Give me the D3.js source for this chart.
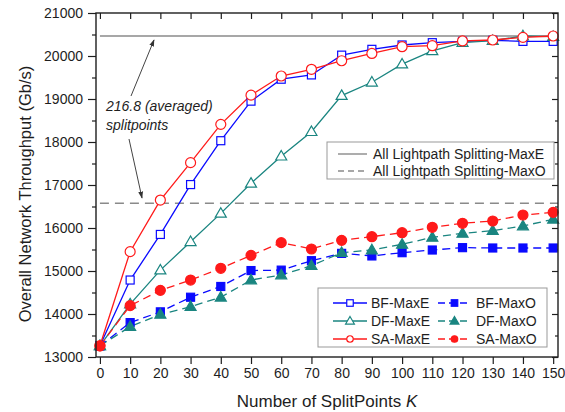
<!DOCTYPE html>
<html>
<head>
<meta charset="utf-8">
<script src="https://cdn.jsdelivr.net/npm/d3@7/dist/d3.min.js"></script>
<style>
  html, body { margin: 0; padding: 0; background: #fff; }
  svg { display: block; font-family: "Liberation Sans", Arial, sans-serif; }
</style>
</head>
<body>
<svg id="chart" width="565" height="412"></svg>
<script>
// Number of split points K
const splitPoints = [0, 10, 20, 30, 40, 50, 60, 70, 80, 90, 100, 110, 120, 130, 140, 150];

// Overall network throughput (Gb/s) per algorithm / objective
const bfMaxE = [13260, 14790, 15850, 17010, 18030, 18950, 19460, 19560, 20020, 20155, 20256, 20310, 20340, 20364, 20340, 20340];
const dfMaxE = [13260, 14230, 15020, 15680, 16340, 17040, 17670, 18240, 19080, 19390, 19810, 20120, 20310, 20357, 20465, 20450];
const saMaxE = [13260, 15450, 16650, 17520, 18410, 19090, 19535, 19690, 19890, 20060, 20217, 20240, 20350, 20372, 20434, 20465];
const bfMaxO = [13260, 13800, 14050, 14390, 14640, 15010, 15020, 15240, 15410, 15350, 15426, 15488, 15543, 15535, 15535, 15535];
const dfMaxO = [13260, 13705, 13990, 14170, 14390, 14790, 14907, 15124, 15426, 15488, 15620, 15783, 15876, 15938, 16047, 16202];
const saMaxO = [13260, 14194, 14550, 14790, 15062, 15364, 15659, 15512, 15713, 15798, 15891, 16016, 16109, 16163, 16302, 16364];

// Reference levels: all lightpaths split
const allSplitMaxE = 20465;
const allSplitMaxO = 16574;

const xTicks = d3.range(0, 151, 10);
const yTicks = d3.range(13000, 21001, 1000);
const yMinorTicks = d3.range(13500, 21000, 1000);

const BLUE = "#0a0aff", TEAL = "#1a8580", RED = "#ff1a1a", GRAY = "#8a8a8a", INK = "#1e1e1e";

const series = [
  { name: "BF-MaxE", values: bfMaxE, color: BLUE, shape: "square",   filled: false, dash: null },
  { name: "BF-MaxO", values: bfMaxO, color: BLUE, shape: "square",   filled: true,  dash: "8,5" },
  { name: "DF-MaxE", values: dfMaxE, color: TEAL, shape: "triangle", filled: false, dash: null },
  { name: "DF-MaxO", values: dfMaxO, color: TEAL, shape: "triangle", filled: true,  dash: "8,5" },
  { name: "SA-MaxE", values: saMaxE, color: RED,  shape: "circle",   filled: false, dash: null },
  { name: "SA-MaxO", values: saMaxO, color: RED,  shape: "circle",   filled: true,  dash: "8,5" }
];

const svg = d3.select("#chart");
const L = 96, R = 558, T = 13, B = 357;

const x = d3.scaleLinear().domain([-1.3, 151.6]).range([L, R]);
const y = d3.scaleLinear().domain([13000, 21000]).range([B, T]);

// Axes: outward ticks left/bottom, inward mirrored ticks top/right
const bottomAxis = d3.axisBottom(x).tickValues(xTicks).tickFormat(d3.format("d")).tickSize(7).tickPadding(4);
const leftAxis = d3.axisLeft(y).tickValues(yTicks).tickFormat(d3.format("d")).tickSize(8).tickPadding(5);
const leftMinor = d3.axisLeft(y).tickValues(yMinorTicks).tickSize(4).tickFormat("");
const topAxis = d3.axisBottom(x).tickValues(xTicks).tickSize(6).tickFormat("");
const rightAxis = d3.axisLeft(y).tickValues(yTicks).tickSize(6).tickFormat("");
const rightMinor = d3.axisLeft(y).tickValues(yMinorTicks).tickSize(3).tickFormat("");

function styleAxis(g) {
  g.select(".domain").remove();
  g.selectAll(".tick line").attr("stroke", INK).attr("stroke-width", 1.2);
  g.selectAll(".tick text").attr("fill", INK).style("font-size", "14px")
    .style("font-family", "'Liberation Sans', Arial, sans-serif");
}

svg.append("g").attr("transform", `translate(0,${B})`).call(bottomAxis).call(styleAxis);
svg.append("g").attr("transform", `translate(${L},0)`).call(leftAxis).call(styleAxis);
svg.append("g").attr("transform", `translate(${L},0)`).call(leftMinor).call(styleAxis);
svg.append("g").attr("transform", `translate(0,${T})`).call(topAxis).call(styleAxis);
svg.append("g").attr("transform", `translate(${R},0)`).call(rightAxis).call(styleAxis);
svg.append("g").attr("transform", `translate(${R},0)`).call(rightMinor).call(styleAxis);

// Reference lines
svg.append("line")
  .attr("x1", x(0)).attr("x2", R).attr("y1", y(allSplitMaxE)).attr("y2", y(allSplitMaxE))
  .attr("stroke", GRAY).attr("stroke-width", 1.4);
svg.append("line")
  .attr("x1", x(0)).attr("x2", R).attr("y1", y(allSplitMaxO)).attr("y2", y(allSplitMaxO))
  .attr("stroke", GRAY).attr("stroke-width", 1.4).attr("stroke-dasharray", "9,6");

// Marker glyphs
function marker(sel, shape, size, color, filled) {
  const fill = filled ? color : "#fff";
  if (shape === "square") {
    sel.append("rect").attr("x", -size / 2).attr("y", -size / 2)
      .attr("width", size).attr("height", size)
      .attr("fill", fill).attr("stroke", color).attr("stroke-width", 1.2);
  } else if (shape === "circle") {
    sel.append("circle").attr("r", size / 2)
      .attr("fill", fill).attr("stroke", color).attr("stroke-width", 1.2);
  } else {
    const h = size * 0.95, w = size * 1.1;
    sel.append("path")
      .attr("d", `M0,${-h * 0.6}L${w / 2},${h * 0.4}L${-w / 2},${h * 0.4}Z`)
      .attr("fill", fill).attr("stroke", color).attr("stroke-width", 1.2);
  }
}

const plot = svg.append("g");
const lineGen = d3.line().x((d, i) => x(splitPoints[i])).y(d => y(d));

series.forEach(s => {
  plot.append("path").datum(s.values)
    .attr("d", lineGen)
    .attr("fill", "none").attr("stroke", s.color).attr("stroke-width", 1.3)
    .attr("stroke-dasharray", s.dash);
});
series.forEach(s => {
  const size = s.shape === "square" ? 8 : 10;
  s.values.forEach((v, i) => {
    const g = plot.append("g").attr("transform", `translate(${x(splitPoints[i])},${y(v)})`);
    marker(g, s.shape, size, s.color, s.filled);
  });
});

// Frame
svg.append("rect").attr("x", L).attr("y", T).attr("width", R - L).attr("height", B - T)
  .attr("fill", "none").attr("stroke", INK).attr("stroke-width", 1.4);

// Annotation with arrows
const defs = svg.append("defs");
defs.append("marker").attr("id", "arrow").attr("viewBox", "0 0 10 10")
  .attr("refX", 9).attr("refY", 5).attr("markerWidth", 7).attr("markerHeight", 7)
  .attr("orient", "auto")
  .append("path").attr("d", "M0,1.5L10,5L0,8.5Z").attr("fill", "#333");

svg.append("text").attr("x", 106).attr("y", 111)
  .style("font-size", "14px").style("font-style", "italic").attr("fill", INK)
  .text("216.8 (averaged)");
svg.append("text").attr("x", 106).attr("y", 130)
  .style("font-size", "14px").style("font-style", "italic").attr("fill", INK)
  .text("splitpoints");
svg.append("line").attr("x1", 131).attr("y1", 96).attr("x2", 154).attr("y2", 40)
  .attr("stroke", "#444").attr("stroke-width", 1).attr("marker-end", "url(#arrow)");
svg.append("line").attr("x1", 129).attr("y1", 139).attr("x2", 142).attr("y2", 198)
  .attr("stroke", "#444").attr("stroke-width", 1).attr("marker-end", "url(#arrow)");

// Legend: reference lines
const lg1 = svg.append("g");
lg1.append("rect").attr("x", 327).attr("y", 142).attr("width", 227).attr("height", 37)
  .attr("fill", "#fff").attr("stroke", "#999").attr("stroke-width", 1);
[["All Lightpath Splitting-MaxE", null, 154], ["All Lightpath Splitting-MaxO", "6,4", 171]].forEach(([label, dash, yy]) => {
  lg1.append("line").attr("x1", 338).attr("x2", 367).attr("y1", yy).attr("y2", yy)
    .attr("stroke", GRAY).attr("stroke-width", 1.4).attr("stroke-dasharray", dash);
  lg1.append("text").attr("x", 373).attr("y", yy + 5).style("font-size", "14px")
    .attr("fill", INK).text(label);
});

// Legend: algorithms
const lg2 = svg.append("g");
lg2.append("rect").attr("x", 318).attr("y", 288).attr("width", 229).attr("height", 59)
  .attr("fill", "#fff").attr("stroke", "#999").attr("stroke-width", 1);
const rowsY = [303, 321, 339];
series.forEach((s, i) => {
  const col = s.filled ? 1 : 0;
  const row = Math.floor(i / 2);
  const x0 = col ? 438 : 333, x1 = col ? 471 : 367, tx = col ? 476 : 371;
  const yy = rowsY[row];
  lg2.append("line").attr("x1", x0).attr("x2", x1).attr("y1", yy).attr("y2", yy)
    .attr("stroke", s.color).attr("stroke-width", 1.3)
    .attr("stroke-dasharray", s.filled ? "7,4" : null);
  const g = lg2.append("g").attr("transform", `translate(${(x0 + x1) / 2},${yy})`);
  marker(g, s.shape, s.shape === "triangle" ? 8 : 6.5, s.color, s.filled);
  lg2.append("text").attr("x", tx).attr("y", yy + 5).style("font-size", "14px")
    .attr("fill", INK).text(s.name);
});

// Axis titles
svg.append("text").attr("x", (L + R) / 2).attr("y", 407).attr("text-anchor", "middle")
  .style("font-size", "17px").attr("fill", INK)
  .call(t => {
    t.append("tspan").text("Number of SplitPoints ");
    t.append("tspan").style("font-style", "italic").text("K");
  });
svg.append("text").attr("transform", "translate(31,194) rotate(-90)").attr("text-anchor", "middle")
  .style("font-size", "16.5px").attr("fill", INK)
  .text("Overall Network Throughput (Gb/s)");
</script>
</body>
</html>
